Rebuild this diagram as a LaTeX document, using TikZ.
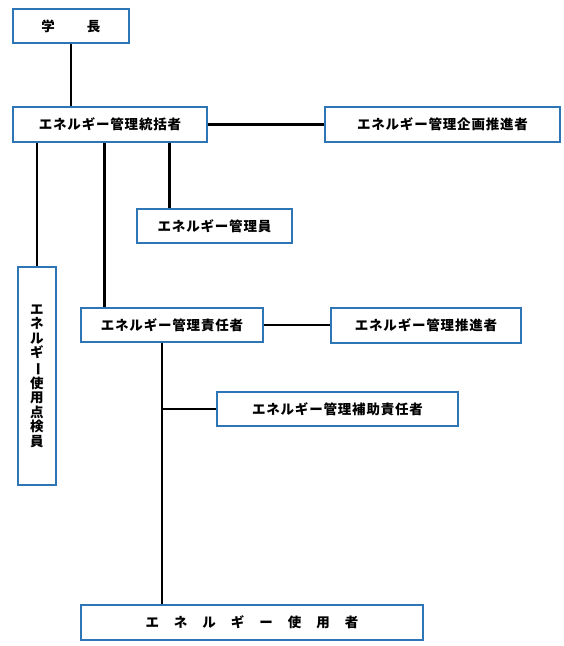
\documentclass[tikz,border=0pt]{standalone}
\usepackage{fontspec}
\usepackage{tikz}
\usetikzlibrary{positioning}
\newfontfamily\jp{Noto Sans CJK JP}[LetterSpace=6]
\definecolor{boxblue}{RGB}{46,117,182}
\tikzset{
	post/.style={draw=boxblue, line width=1.4pt, fill=white, inner sep=0pt,
		font=\jp\bfseries\fontsize{13.5}{14.5}\selectfont},
	link/.style={draw=black, line width=2.4pt}
}

\begin{document}
\begin{tikzpicture}[x=1pt, y=-1pt]
		\useasboundingbox (0,0) rectangle (564,646);
		% 上段
		\node[post, minimum width=116pt, minimum height=34pt] (gakucho) at (71,26) {学\hspace{32pt}長};
		\node[post, minimum width=194pt, minimum height=35pt] (tokatsu) at (110,124.5) {エネルギー管理統括者};
		\node[post, minimum width=235pt, minimum height=35pt] (kikaku) at (442.5,124.5) {エネルギー管理企画推進者};
		\node[post, minimum width=155pt, minimum height=34pt] (kanriin) at (214.5,226) {エネルギー管理員};
		% 点検員（縦書き）
		\node[post, minimum width=38pt, minimum height=218pt, align=center] (tenken) at (37,376)
			{エ\\ネ\\ル\\ギ\\\rotatebox[origin=c]{-90}{ー}\\使\\用\\点\\検\\員};
		% 中段
		\node[post, minimum width=182pt, minimum height=34pt] (sekinin) at (172,325) {エネルギー管理責任者};
		\node[post, minimum width=190pt, minimum height=35pt] (suishin) at (426,325.5) {エネルギー管理推進者};
		\node[post, minimum width=241pt, minimum height=34pt] (hojo) at (337.5,409) {エネルギー管理補助責任者};
		% 下段
		\node[post, minimum width=342pt, minimum height=35pt] (shiyo) at (252,622.5)
			{エ\hspace{15pt}ネ\hspace{15pt}ル\hspace{15pt}ギ\hspace{15pt}ー\hspace{15pt}使\hspace{15pt}用\hspace{15pt}者};

		\draw[link] (gakucho.south) -- (gakucho.south |- tokatsu.north);
		\draw[link] (tokatsu.east) -- (kikaku.west);
		\draw[link] (tenken.north |- tokatsu.south) -- (tenken.north);
		\draw[link] ([xshift=24pt]sekinin.north west |- tokatsu.south) -- ([xshift=24pt]sekinin.north west);
		\draw[link] ([xshift=33pt]kanriin.north west |- tokatsu.south) -- ([xshift=33pt]kanriin.north west);
		\draw[link] (sekinin.east) -- (sekinin.east -| suishin.west);
		\coordinate (trunk) at ([xshift=-10pt]sekinin.south);
		\draw[link] (trunk) -- (trunk |- shiyo.north);
		\draw[link] (hojo.west) -- (hojo.west -| trunk);
	\end{tikzpicture}
\end{document}
